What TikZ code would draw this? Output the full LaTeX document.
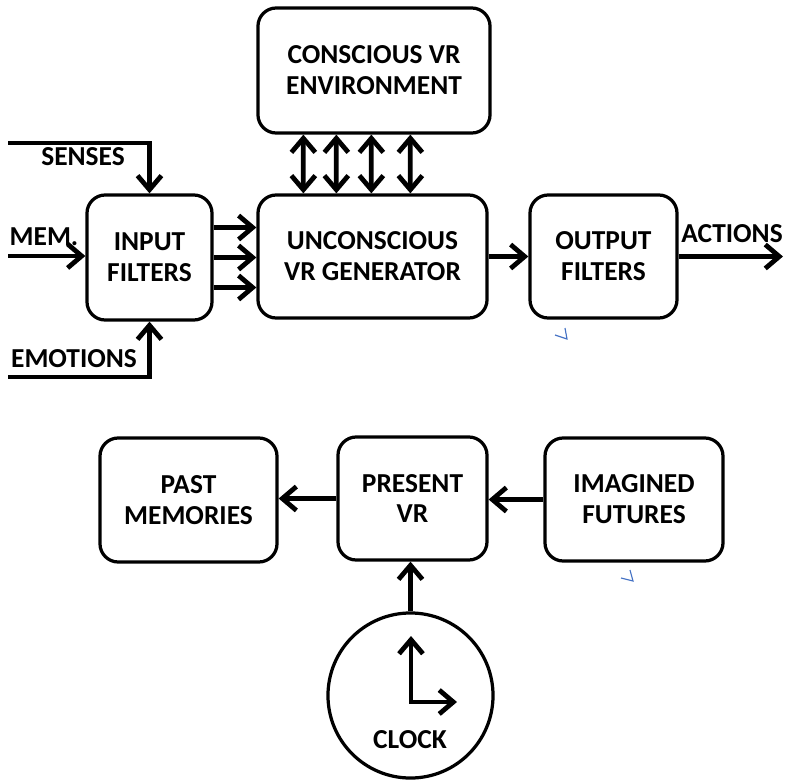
\documentclass[tikz,border=0pt]{standalone}
\usepackage{fontspec}
\setmainfont{Carlito}
\usepackage{tikz}
\usetikzlibrary{arrows.meta, positioning, calc}
\definecolor{inkblue}{RGB}{68, 114, 196}

\begin{document}
\begin{tikzpicture}[x=0.025cm, y=-0.025cm,
  box/.style={draw, line width=2.3pt, rounded corners=13pt, align=center, inner sep=0pt, font=\fontsize{19.5}{22}\selectfont\bfseries},
  lbl/.style={inner sep=0pt, font=\fontsize{19.5}{22}\selectfont\bfseries},
  arr/.style={line width=3.4pt, -{Straight Barb[length=10pt, width=17pt]}},
  dblarr/.style={line width=3.4pt, {Straight Barb[length=10pt, width=17pt]}-{Straight Barb[length=10pt, width=17pt]}},
  stray/.style={inkblue, line width=0.8pt}]
  \useasboundingbox (0,0) rectangle (785,784);

  % Conscious VR environment
  \node[box, minimum width=5.8cm, minimum height=3.125cm] (conscious) at (374,70.5) {CONSCIOUS VR\\ENVIRONMENT};

  % Unconscious generator
  \node[box, minimum width=5.725cm, minimum height=3.075cm] (uncon) at (372.5,256.5) {UNCONSCIOUS\\VR GENERATOR};

  % Input and output filters
  \node[box, minimum width=3.125cm, minimum height=3.125cm] (input) at (149.5,257.5) {INPUT\\FILTERS};
  \node[box, minimum width=3.675cm, minimum height=3.075cm] (output) at (603.5,256.5) {OUTPUT\\FILTERS};

  % Time line
  \node[box, minimum width=4.425cm, minimum height=3.1cm] (past) at (188.5,500) {PAST\\MEMORIES};
  \node[box, minimum width=3.725cm, minimum height=3.075cm] (present) at (412.5,498.5) {PRESENT\\VR};
  \node[box, minimum width=4.45cm, minimum height=3.075cm] (imagined) at (634,499.5) {IMAGINED\\FUTURES};

  % Clock
  \node[draw, circle, line width=2.3pt, minimum size=4.125cm, inner sep=0pt] (clock) at (410.5,695.5) {};
  \node[lbl, anchor=base] (clocklbl) at (410,748) {CLOCK};

  % Outside labels
  \node[lbl, anchor=base] (senseslbl) at (83,165) {SENSES};
  \node[lbl, anchor=base] (memlbl) at (44,245) {MEM.};
  \node[lbl, anchor=base] (emolbl) at (74,367) {EMOTIONS};
  \node[lbl, anchor=base east] (actlbl) at (783,242) {ACTIONS};

  % Inputs
  \coordinate (sensesin) at (8,143);
  \coordinate (memin) at (8,256);
  \coordinate (emoin) at (8,377);
  \draw[arr] (sensesin) -| (input.north);
  \draw[arr] (memin) -- (memin -| input.west);
  \draw[arr] (emoin) -| (input.south);

  % Filters to generator
  \foreach \dy in {-30,0,30} {
    \coordinate (src) at ($(input.east)+(0,\dy)$);
    \draw[arr] (src) -- (src -| uncon.west);
  }

  % Conscious <-> unconscious
  \foreach \dx in {47,80,115,154}
    \draw[dblarr] ($(conscious.south west)+(\dx,0)$) -- ($(uncon.north west)+(\dx,0)$);

  \draw[arr] (uncon.east) -- (output.west);
  \coordinate (actend) at (783,256.5);
  \draw[arr] (output.east) -- (actend);

  % Time arrows
  \draw[arr] (present.west) -- (present.west -| past.east);
  \draw[arr] (imagined.west) -- (imagined.west -| present.east);
  \draw[arr] (clock.north) -- (clock.north |- present.south);

  % Clock hands
  \coordinate (hub) at (411,702);
  \coordinate (hand12) at (411,636);
  \coordinate (hand3) at (457,702);
  \draw[dblarr] (hand12) -- (hub) -- (hand3);

  % stray pen marks
  \draw[stray] (555,335) -- (567,339) -- (565,328);
  \draw[stray] (621,578) -- (633,581) -- (630,570);
\end{tikzpicture}
\end{document}
